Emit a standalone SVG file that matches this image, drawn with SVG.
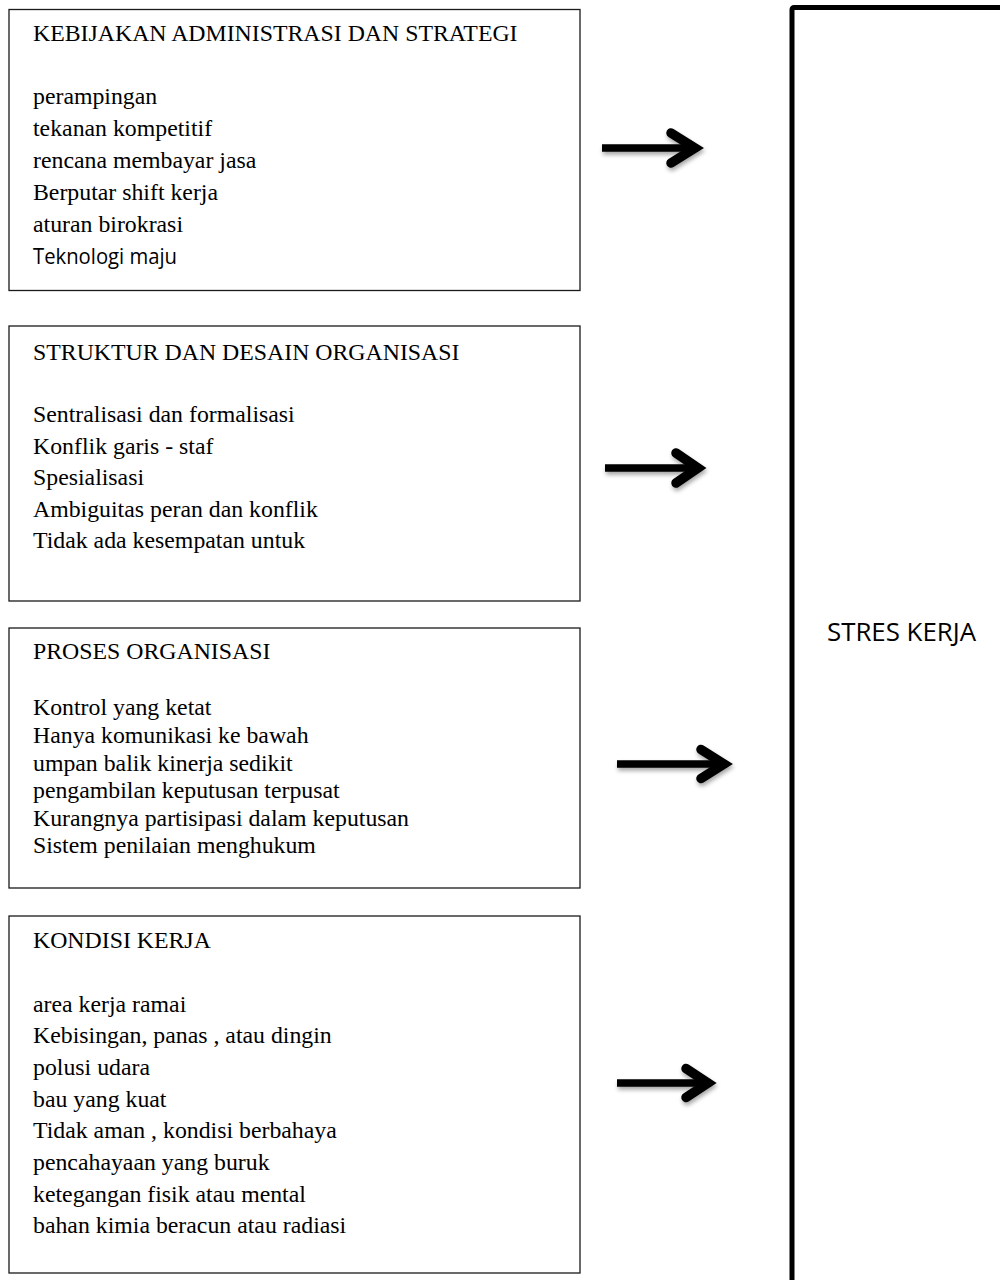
<svg xmlns="http://www.w3.org/2000/svg" width="1000" height="1280" viewBox="0 0 1000 1280">
<style>
.box{fill:#fff;stroke:#1a1a1a;stroke-width:1.3}
.t{font-family:"Liberation Serif","Times New Roman",serif;font-size:23.8px;fill:#000}
.s{font-family:"Open Sans","Liberation Sans",sans-serif;fill:#000}
.shaft{stroke:#000;stroke-width:7.5;stroke-linecap:butt;fill:none}
.head{stroke:#000;stroke-width:9.5;stroke-linecap:round;stroke-linejoin:miter;fill:none}
</style>
<defs>
<filter id="sh" x="-20%" y="-50%" width="140%" height="200%">
<feDropShadow dx="1" dy="3" stdDeviation="2" flood-color="#000" flood-opacity="0.35"/>
</filter>
</defs>
<rect width="1000" height="1280" fill="#fff"/>

<g id="node-kebijakan">
<rect class="box" x="9" y="9.5" width="571" height="281"/>
<text class="t" x="33" y="40.5">KEBIJAKAN ADMINISTRASI DAN STRATEGI</text>
<text class="t" x="33" y="104">perampingan</text>
<text class="t" x="33" y="136">tekanan kompetitif</text>
<text class="t" x="33" y="168">rencana membayar jasa</text>
<text class="t" x="33" y="200">Berputar shift kerja</text>
<text class="t" x="33" y="232">aturan birokrasi</text>
<text class="s" x="33" y="264" font-size="21" textLength="144" lengthAdjust="spacingAndGlyphs">Teknologi maju</text>
</g>

<g id="node-struktur">
<rect class="box" x="9" y="326" width="571" height="275"/>
<text class="t" x="33" y="360">STRUKTUR DAN DESAIN ORGANISASI</text>
<text class="t" x="33" y="422">Sentralisasi dan formalisasi</text>
<text class="t" x="33" y="453.5">Konflik garis - staf</text>
<text class="t" x="33" y="485">Spesialisasi</text>
<text class="t" x="33" y="517">Ambiguitas peran dan konflik</text>
<text class="t" x="33" y="548">Tidak ada kesempatan untuk</text>
</g>

<g id="node-proses">
<rect class="box" x="9" y="628" width="571" height="260"/>
<text class="t" x="33" y="659">PROSES ORGANISASI</text>
<text class="t" x="33" y="715">Kontrol yang ketat</text>
<text class="t" x="33" y="743">Hanya komunikasi ke bawah</text>
<text class="t" x="33" y="771">umpan balik kinerja sedikit</text>
<text class="t" x="33" y="798">pengambilan keputusan terpusat</text>
<text class="t" x="33" y="826">Kurangnya partisipasi dalam keputusan</text>
<text class="t" x="33" y="853">Sistem penilaian menghukum</text>
</g>

<g id="node-kondisi">
<rect class="box" x="9" y="916" width="571" height="357"/>
<text class="t" x="33" y="948">KONDISI KERJA</text>
<text class="t" x="33" y="1012">area kerja ramai</text>
<text class="t" x="33" y="1043">Kebisingan, panas , atau dingin</text>
<text class="t" x="33" y="1075">polusi udara</text>
<text class="t" x="33" y="1107">bau yang kuat</text>
<text class="t" x="33" y="1138">Tidak aman , kondisi berbahaya</text>
<text class="t" x="33" y="1170">pencahayaan yang buruk</text>
<text class="t" x="33" y="1202">ketegangan fisik atau mental</text>
<text class="t" x="33" y="1233">bahan kimia beracun atau radiasi</text>
</g>

<g id="node-stres">
<rect x="792" y="7.5" width="400" height="1400" rx="2" fill="none" stroke="#000" stroke-width="5"/>
<text class="s" x="827" y="641" font-size="26" textLength="149" lengthAdjust="spacingAndGlyphs">STRES KERJA</text>
</g>

<g id="connectors" filter="url(#sh)">
<g>
<line class="shaft" x1="602" y1="148" x2="698" y2="148"/>
<polyline class="head" points="671,133 695,148 671,163"/>
</g>
<g>
<line class="shaft" x1="605" y1="468" x2="701" y2="468"/>
<polyline class="head" points="676,453 698,468 676,483"/>
</g>
<g>
<line class="shaft" x1="617" y1="764" x2="727" y2="764"/>
<polyline class="head" points="701,749.5 724,764 701,778.5"/>
</g>
<g>
<line class="shaft" x1="617" y1="1083" x2="711" y2="1083"/>
<polyline class="head" points="686,1068.5 708,1083 686,1097.5"/>
</g>
</g>
</svg>
